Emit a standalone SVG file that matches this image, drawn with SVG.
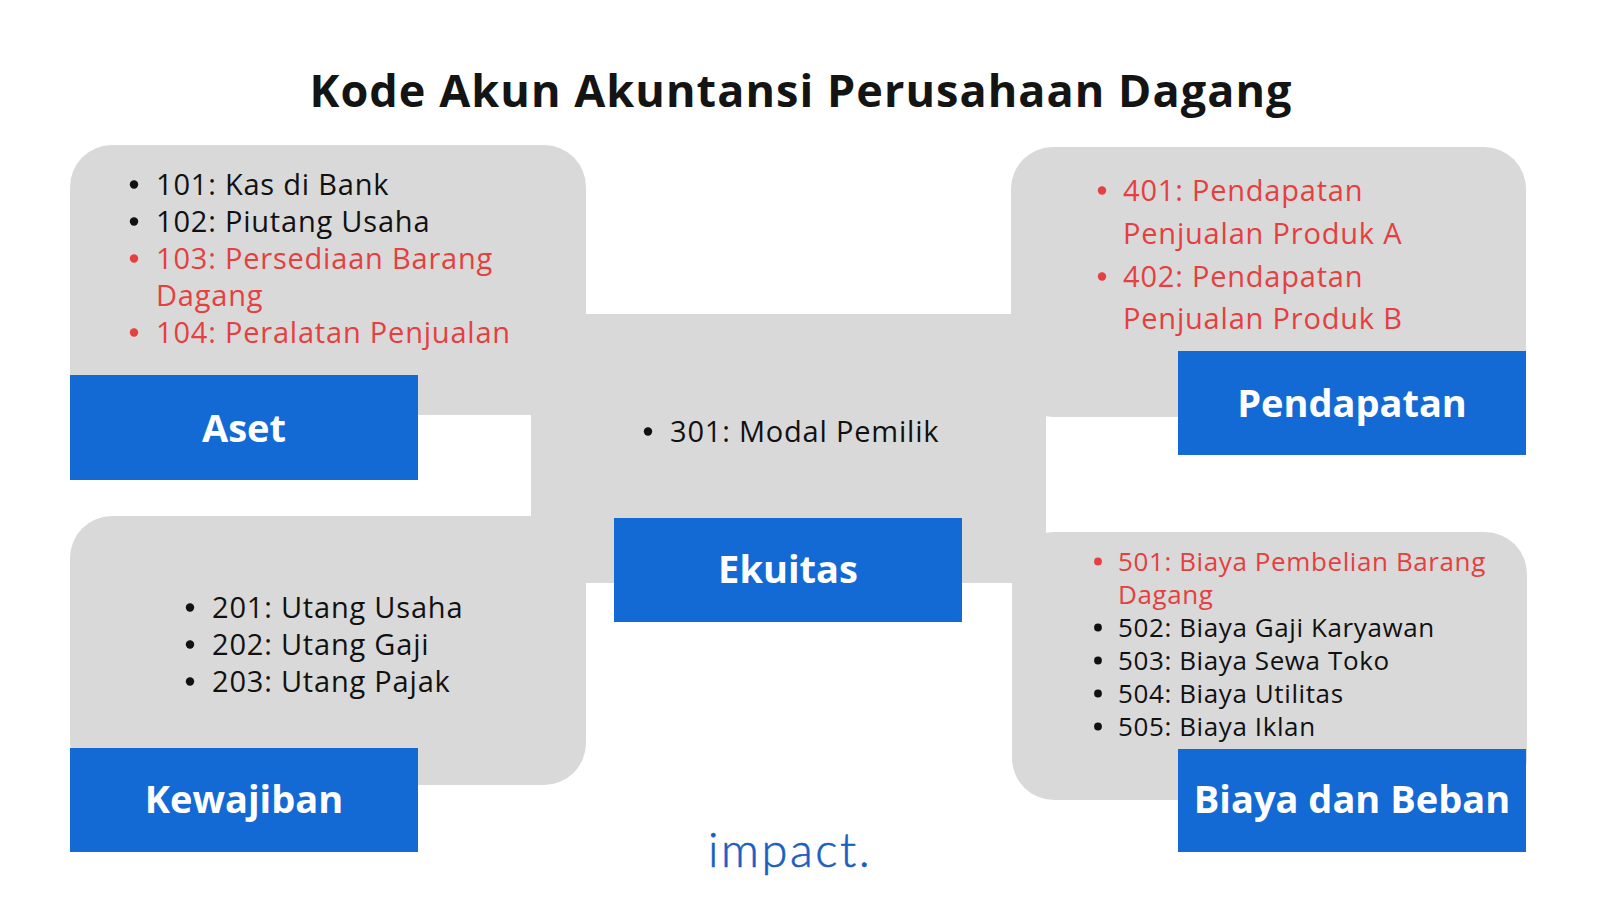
<svg xmlns="http://www.w3.org/2000/svg" width="1600" height="900" viewBox="0 0 1600 900">
<style>
.panel{fill:#d9d9d9}
.tag{fill:#136ad5}
.title{font-family:"Open Sans","Liberation Sans",sans-serif;font-weight:700;font-size:45px;fill:#141414;letter-spacing:1.05px}
.lab{font-family:"Open Sans","Liberation Sans",sans-serif;font-weight:700;font-size:38px;fill:#ffffff;text-anchor:middle}
.li{font-family:"Open Sans","Liberation Sans",sans-serif;font-size:29px;letter-spacing:0.8px;fill:#111111}
.sm{font-size:26px;letter-spacing:0.6px}
.red{fill:#e53f3f}
.dot{fill:#111111}
.dot.red{fill:#e53f3f}
.logo{font-family:Lato,"Open Sans",sans-serif;font-weight:300;font-size:47px;fill:#1a5ec2;letter-spacing:2.6px;stroke:#1a5ec2;stroke-width:0.6px}
</style>
<rect width="1600" height="900" fill="#ffffff"/>
<text class="title" x="801" y="107" text-anchor="middle">Kode Akun Akuntansi Perusahaan Dagang</text>
<g id="connectors">
<rect class="panel" x="531" y="314" width="515" height="269"/>
</g>
<g id="aset">
<rect class="panel" x="70" y="145" width="516" height="270" rx="42"/>
<rect class="tag" x="70" y="375" width="348" height="105"/>
<text class="lab" x="244" y="442">Aset</text>
<circle class="dot" cx="134" cy="184.5" r="4.2"/><text class="li" x="156" y="195">101: Kas di Bank</text>
<circle class="dot" cx="134" cy="221.5" r="4.2"/><text class="li" x="156" y="232">102: Piutang Usaha</text>
<circle class="dot red" cx="134" cy="258.5" r="4.2"/><text class="li red" x="156" y="269">103: Persediaan Barang</text>
<text class="li red" x="156" y="306">Dagang</text>
<circle class="dot red" cx="134" cy="332.5" r="4.2"/><text class="li red" x="156" y="343">104: Peralatan Penjualan</text>
</g>
<g id="kewajiban">
<rect class="panel" x="70" y="516" width="516" height="269" rx="42"/>
<rect class="tag" x="70" y="748" width="348" height="104"/>
<text class="lab" x="244" y="813">Kewajiban</text>
<circle class="dot" cx="190" cy="607.5" r="4.2"/><text class="li" x="212" y="618">201: Utang Usaha</text>
<circle class="dot" cx="190" cy="644.5" r="4.2"/><text class="li" x="212" y="655">202: Utang Gaji</text>
<circle class="dot" cx="190" cy="681.5" r="4.2"/><text class="li" x="212" y="692">203: Utang Pajak</text>
</g>
<g id="ekuitas">
<rect class="tag" x="614" y="518" width="348" height="104"/>
<text class="lab" x="788" y="583">Ekuitas</text>
<circle class="dot" cx="648" cy="431.5" r="4.2"/><text class="li" x="670" y="442">301: Modal Pemilik</text>
</g>
<g id="pendapatan">
<rect class="panel" x="1011" y="147" width="515" height="270" rx="42"/>
<rect class="tag" x="1178" y="351" width="348" height="104"/>
<text class="lab" x="1352" y="417">Pendapatan</text>
<circle class="dot red" cx="1102" cy="190.5" r="4.2"/><text class="li red" x="1123" y="201">401: Pendapatan</text>
<text class="li red" x="1123" y="244">Penjualan Produk A</text>
<circle class="dot red" cx="1102" cy="276.5" r="4.2"/><text class="li red" x="1123" y="287">402: Pendapatan</text>
<text class="li red" x="1123" y="329">Penjualan Produk B</text>
</g>
<g id="biaya">
<rect class="panel" x="1012" y="532" width="515" height="268" rx="42"/>
<rect class="tag" x="1178" y="749" width="348" height="103"/>
<text class="lab" x="1352" y="813">Biaya dan Beban</text>
<circle class="dot red" cx="1098" cy="561.5" r="3.9"/><text class="li sm red" x="1118" y="571">501: Biaya Pembelian Barang</text>
<text class="li sm red" x="1118" y="604">Dagang</text>
<circle class="dot" cx="1098" cy="627.5" r="3.9"/><text class="li sm" x="1118" y="637">502: Biaya Gaji Karyawan</text>
<circle class="dot" cx="1098" cy="660.5" r="3.9"/><text class="li sm" x="1118" y="670">503: Biaya Sewa Toko</text>
<circle class="dot" cx="1098" cy="693.5" r="3.9"/><text class="li sm" x="1118" y="703">504: Biaya Utilitas</text>
<circle class="dot" cx="1098" cy="726.5" r="3.9"/><text class="li sm" x="1118" y="736">505: Biaya Iklan</text>
</g>
<text class="logo" x="708" y="867">impact.</text>
</svg>
